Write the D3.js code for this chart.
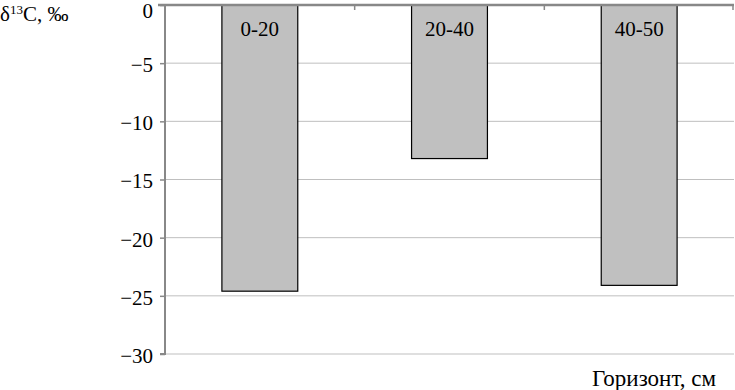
<!DOCTYPE html>
<html><head><meta charset="utf-8">
<script src="https://cdn.jsdelivr.net/npm/d3@7"></script>
<style>
body{margin:0;background:#fff;}
text{font-family:"Liberation Serif","Times New Roman",serif;}
</style></head>
<body><svg id="c" width="735" height="390"></svg>
<script>
const categories = ["0-20", "20-40", "40-50"];
const values = [-24.6, -13.2, -24.1];
const yTicks = [0, -5, -10, -15, -20, -25, -30];

const svg = d3.select("#c");
const L = 165, R = 734, T = 5, B = 354;
const FS = 21;
const x = d3.scaleBand().domain(categories).range([L, R]).paddingInner(0.6).paddingOuter(0.3);
const y = d3.scaleLinear().domain([-30, 0]).range([B, T]);

// gridlines
svg.append("g").selectAll("line").data(yTicks.filter(d => d !== 0)).join("line")
  .attr("x1", L).attr("x2", R).attr("y1", d => y(d)).attr("y2", d => y(d))
  .attr("stroke", "#bfbfbf").attr("stroke-width", 1);

// bars
svg.append("g").selectAll("rect").data(categories).join("rect")
  .attr("x", d => x(d)).attr("width", x.bandwidth())
  .attr("y", y(0)).attr("height", (d, i) => y(values[i]) - y(0))
  .attr("fill", "#c0c0c0").attr("stroke", "#000").attr("stroke-width", 1.2);

// bar labels
svg.append("g").selectAll("text").data(categories).join("text")
  .attr("x", d => x(d) + x.bandwidth() / 2).attr("y", 36)
  .attr("text-anchor", "middle").attr("font-size", FS).text(d => d);

// y axis
const yAxis = d3.axisLeft(y).tickValues(yTicks).tickSize(5).tickPadding(7)
  .tickFormat(d => d === 0 ? "0" : "\u2212" + Math.abs(d));
const gy = svg.append("g").attr("transform", `translate(${L},0)`).call(yAxis);
gy.select(".domain").attr("stroke", "#888").attr("stroke-width", 2).attr("d", `M-5,${T}H0V${B}H-5`);
gy.selectAll(".tick line").attr("stroke", "#888").attr("stroke-width", 1.5);
gy.selectAll(".tick text").attr("font-size", FS).attr("fill", "#000").attr("dy", d => d === 0 ? "0.6em" : "0.4em")
  .attr("font-family", "Liberation Serif, Times New Roman, serif");

// top category axis (at y=0)
const bounds = categories.map(c => x(c) - x.step() * x.paddingInner() / 2 + x.step());
const gx = svg.append("g");
gx.append("line").attr("x1", L - 7).attr("x2", R).attr("y1", y(0)).attr("y2", y(0))
  .attr("stroke", "#888").attr("stroke-width", 2.5);
gx.selectAll("line.t").data(bounds).join("line").attr("class", "t")
  .attr("x1", d => Math.min(d, R - 1)).attr("x2", d => Math.min(d, R - 1))
  .attr("y1", y(0)).attr("y2", y(0) + 5).attr("stroke", "#888").attr("stroke-width", 1.5);

// titles
const t = svg.append("text").attr("x", 0).attr("y", 21).attr("font-size", FS);
t.append("tspan").text("\u03b4");
t.append("tspan").attr("font-size", 13).attr("dy", -7).text("13");
t.append("tspan").attr("dy", 7).text("C, \u2030");

svg.append("text").attr("x", 716).attr("y", 386).attr("text-anchor", "end")
  .attr("font-size", 23).text("Горизонт, см");
</script></body></html>
